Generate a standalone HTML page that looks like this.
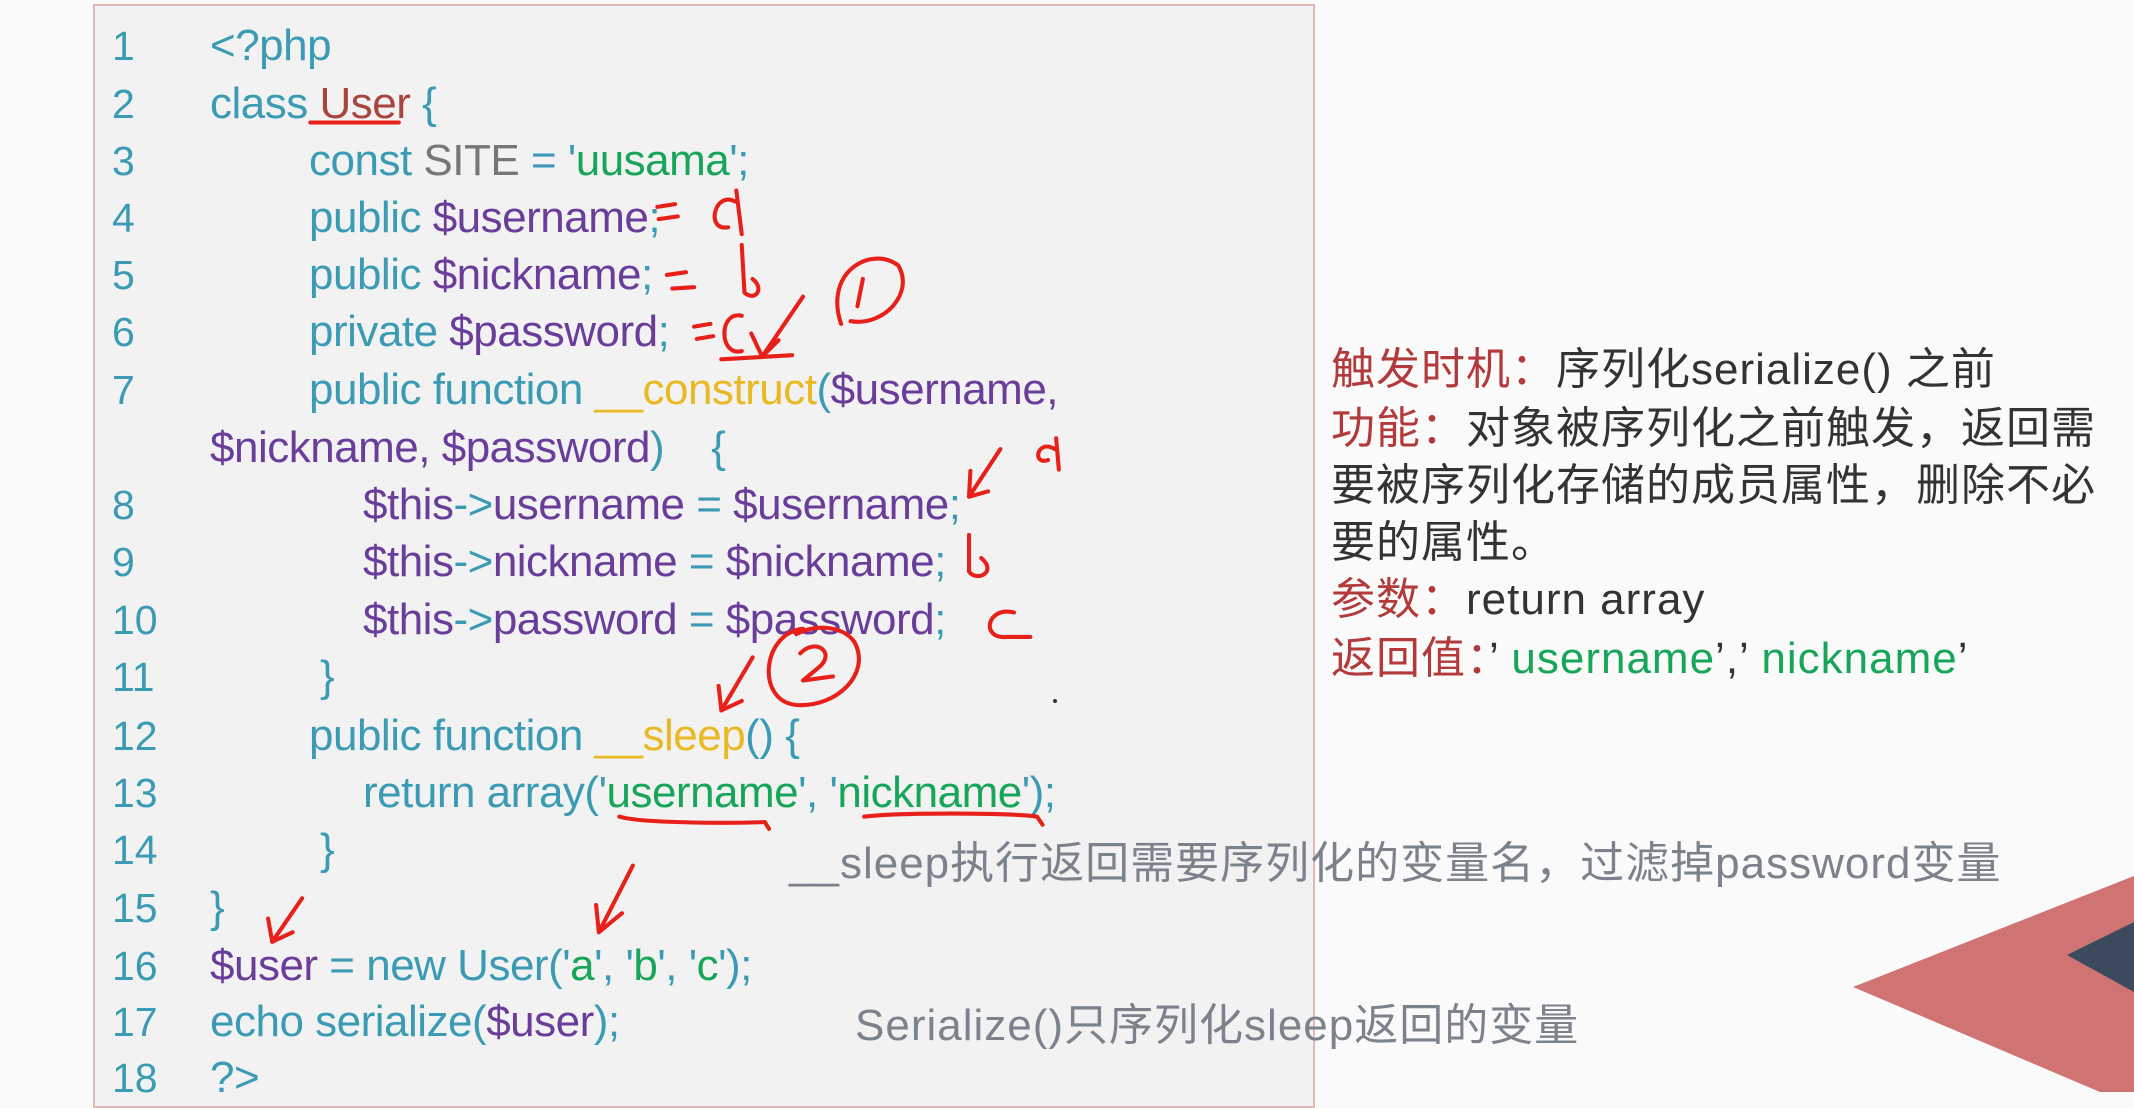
<!DOCTYPE html>
<html><head><meta charset="utf-8"><style>
html,body{margin:0;padding:0;}
body{width:2134px;height:1092px;position:relative;overflow:hidden;background:#fafafa;font-family:"Liberation Sans","Noto Sans CJK SC",sans-serif;}
#panel{position:absolute;left:93px;top:4px;width:1218px;height:1100px;background:#f2f2f2;border:2px solid #e0b8b8;}
.l{position:absolute;font-size:44px;line-height:50px;white-space:pre;color:#3b9bb5;letter-spacing:-0.5px;}
.n{position:absolute;left:112px;font-size:41px;line-height:50px;color:#3b9bb5;}
.v{color:#6a3d9a}.s{color:#17a55a}.f{color:#e8b923}.g{color:#777}.u{color:#a8453c}
.r{position:absolute;left:1331px;font-size:44px;line-height:50px;color:#333;white-space:nowrap;letter-spacing:1px;}
.r b{font-weight:normal;color:#b23a3a}
.gr{position:absolute;font-size:44px;line-height:50px;color:#7b828b;white-space:nowrap;letter-spacing:1px;}
</style></head><body>
<div id="panel"></div>
<div class="n" style="top:21px">1</div>
<div class="n" style="top:79px">2</div>
<div class="n" style="top:136px">3</div>
<div class="n" style="top:193px">4</div>
<div class="n" style="top:250px">5</div>
<div class="n" style="top:307px">6</div>
<div class="n" style="top:365px">7</div>
<div class="n" style="top:480px">8</div>
<div class="n" style="top:537px">9</div>
<div class="n" style="top:595px">10</div>
<div class="n" style="top:652px">11</div>
<div class="n" style="top:711px">12</div>
<div class="n" style="top:768px">13</div>
<div class="n" style="top:825px">14</div>
<div class="n" style="top:883px">15</div>
<div class="n" style="top:941px">16</div>
<div class="n" style="top:997px">17</div>
<div class="n" style="top:1053px">18</div>

<div class="l" style="left:210px;top:21px">&lt;?php</div>
<div class="l" style="left:210px;top:79px">class <span class="u">User</span> {</div>
<div class="l" style="left:309px;top:136px">const <span class="g">SITE</span> = '<span class="s">uusama</span>';</div>
<div class="l" style="left:309px;top:193px">public <span class="v">$username</span>;</div>
<div class="l" style="left:309px;top:250px">public <span class="v">$nickname</span>;</div>
<div class="l" style="left:309px;top:307px">private <span class="v">$password</span>;</div>
<div class="l" style="left:309px;top:365px">public function <span class="f">__construct</span>(<span class="v">$username,</span></div>
<div class="l" style="left:210px;top:423px"><span class="v">$nickname, $password</span>)    {</div>
<div class="l" style="left:363px;top:480px"><span class="v">$this</span>-&gt;<span class="v">username</span> = <span class="v">$username</span>;</div>
<div class="l" style="left:363px;top:537px"><span class="v">$this</span>-&gt;<span class="v">nickname</span> = <span class="v">$nickname</span>;</div>
<div class="l" style="left:363px;top:595px"><span class="v">$this</span>-&gt;<span class="v">password</span> = <span class="v">$password</span>;</div>
<div class="l" style="left:320px;top:652px">}</div>
<div class="l" style="left:309px;top:711px">public function <span class="f">__sleep</span>() {</div>
<div class="l" style="left:363px;top:768px">return array('<span class="s">username</span>', '<span class="s">nickname</span>');</div>
<div class="l" style="left:320px;top:825px">}</div>
<div class="l" style="left:210px;top:883px">}</div>
<div class="l" style="left:210px;top:941px"><span class="v">$user</span> = new User('<span class="s">a</span>', '<span class="s">b</span>', '<span class="s">c</span>');</div>
<div class="l" style="left:210px;top:997px">echo serialize(<span class="v">$user</span>);</div>
<div class="l" style="left:210px;top:1053px">?&gt;</div>

<div class="r" style="top:345px"><b>触发时机：</b>序列化serialize() 之前</div>
<div class="r" style="top:404px"><b>功能：</b>对象被序列化之前触发，返回需</div>
<div class="r" style="top:461px">要被序列化存储的成员属性，删除不必</div>
<div class="r" style="top:518px">要的属性。</div>
<div class="r" style="top:575px"><b>参数：</b>return array</div>
<div class="r" style="top:634px"><b>返回值：</b>’ <span style="color:#17a55a">username</span>’,’ <span style="color:#17a55a">nickname</span>’</div>

<div class="gr" style="left:789px;top:839px">__sleep执行返回需要序列化的变量名，过滤掉password变量</div>
<div class="gr" style="left:855px;top:1001px">Serialize()只序列化sleep返回的变量</div>

<svg width="2134" height="1092" style="position:absolute;left:0;top:0" viewBox="0 0 2134 1092">
<polygon points="1853,987 2134,876 2134,1092 2100,1092" fill="#d07373"/>
<polygon points="2067,955 2134,922 2134,992" fill="#3c4a5e"/>
<g transform="scale(1.361)" fill="none" stroke="#e8201a" stroke-width="3" stroke-linecap="round" stroke-linejoin="round">
<path d="M228,90 L293,90"/>
<path d="M483,152 L496,150 M484,161 L498,159 M540,148 C525,140 518,170 535,167 M541,140 L545,172"/>
<path d="M490,202 L504,200 M494,212 L510,211 M545,180 L547,215 C555,222 562,212 553,205"/>
<path d="M510,240 L522,238 M512,249 L524,247 M545,232 C528,228 528,262 545,258 M530,264 L582,261 M590,218 L560,262 M552,245 L560,262 L572,250"/>
<path d="M618,238 C605,200 640,180 660,195 C672,215 650,240 625,236 M634,205 L630,225"/>
<path d="M735,330 L712,365 M713,346 L712,365 L726,361 M775,330 C762,322 758,342 770,338 M776,322 L778,345"/>
<path d="M712,393 L712,420 C718,428 733,420 721,410"/>
<path d="M745,450 C725,445 720,470 740,468 L757,468"/>
<path d="M590,462 C560,465 555,515 585,518 C615,520 640,495 628,472 C620,460 600,458 585,466 M588,480 C600,468 614,480 602,490 L590,500 L612,497"/>
<path d="M553,483 L530,522 M528,504 L530,522 L545,515"/>
<path d="M455,600 C470,605 540,605 562,604 L565,609 M635,600 C660,597 740,597 762,600 L766,606"/>
<path d="M222,660 L200,692 M197,675 L200,692 L215,685"/>
<path d="M465,636 L440,685 M438,665 L440,685 L457,671"/>
</g>
<circle cx="1055" cy="701" r="2" fill="#333"/>
</svg>
</body></html>
